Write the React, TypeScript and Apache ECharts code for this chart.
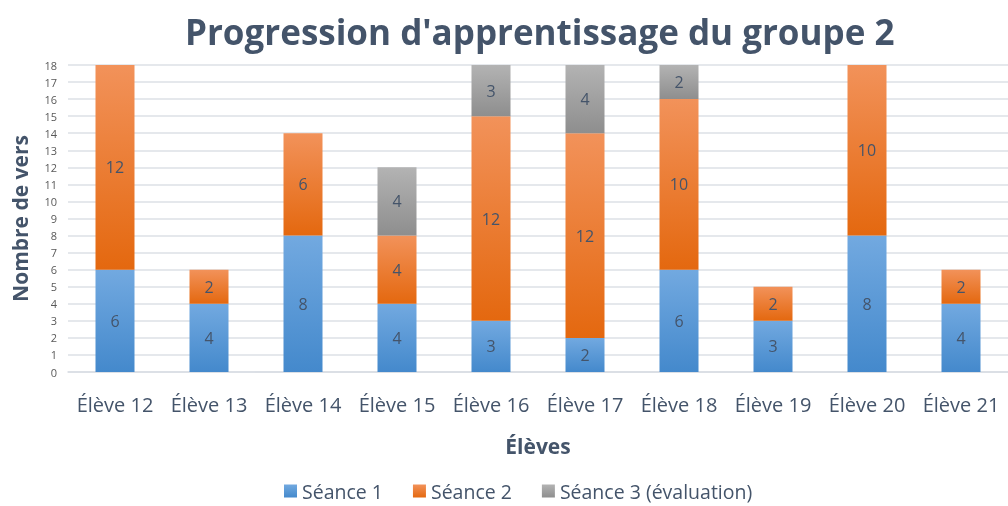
import React, { useEffect, useRef } from "react";
import * as echarts from "echarts";

const categories = ["Élève 12", "Élève 13", "Élève 14", "Élève 15", "Élève 16", "Élève 17", "Élève 18", "Élève 19", "Élève 20", "Élève 21"];
const seance1 = [6, 4, 8, 4, 3, 2, 6, 3, 8, 4];
const seance2 = [12, 2, 6, 4, 12, 12, 10, 2, 10, 2];
const seance3 = [0, 0, 0, 4, 3, 4, 2, 0, 0, 0];
const seriesNames = ["Séance 1", "Séance 2", "Séance 3 (évaluation)"];

const FONT = "'Open Sans', 'Noto Sans', sans-serif";
const TEXT = "#44546a";

function grad(top: string, bottom: string) {
  return new echarts.graphic.LinearGradient(0, 0, 0, 1, [
    { offset: 0, color: top },
    { offset: 1, color: bottom },
  ]);
}

export default function App() {
  const ref = useRef<HTMLDivElement>(null);
  useEffect(() => {
    if (!ref.current) return;
    const chart = echarts.init(ref.current, undefined, { renderer: "svg" });
    const label = {
      show: true,
      position: "inside" as const,
      color: TEXT,
      fontSize: 16,
      fontFamily: FONT,
      formatter: (p: any) => (p.value ? String(p.value) : ""),
    };
    const mk = (name: string, data: number[], top: string, bottom: string) => ({
      name,
      type: "bar" as const,
      stack: "total",
      barWidth: 39,
      data,
      label,
      itemStyle: { color: grad(top, bottom) },
    });
    chart.setOption({
      animation: false,
      title: {
        text: "Progression d'apprentissage du groupe 2",
        left: 180,
        top: 9,
        textStyle: { fontFamily: FONT, fontSize: 35, fontWeight: "bold", color: TEXT },
      },
      legend: {
        bottom: 0,
        left: 279,
        itemWidth: 13,
        itemHeight: 13,
        itemGap: 30,
        icon: "rect",
        textStyle: { fontFamily: FONT, fontSize: 19.5, color: TEXT },
        data: seriesNames,
      },
      grid: { left: 68, right: 0, top: 65, bottom: 134, containLabel: false },
      xAxis: {
        type: "category",
        data: categories,
        name: "Élèves",
        nameLocation: "middle",
        nameGap: 63,
        nameTextStyle: { fontFamily: FONT, fontSize: 21, fontWeight: "bold", color: TEXT },
        axisLine: { show: true, lineStyle: { color: "#d9dde3", width: 1.5 } },
        axisTick: { show: false },
        axisLabel: { fontFamily: FONT, fontSize: 20, color: TEXT, margin: 22, interval: 0 },
      },
      yAxis: {
        type: "value",
        min: 0,
        max: 18,
        interval: 1,
        name: "Nombre de vers",
        nameLocation: "middle",
        nameGap: 38,
        nameTextStyle: { fontFamily: FONT, fontSize: 21, fontWeight: "bold", color: TEXT },
        axisLine: { show: false },
        axisTick: { show: false },
        axisLabel: { fontFamily: FONT, fontSize: 11, color: "#595959", margin: 11 },
        splitLine: { lineStyle: { color: "#dde1e6", width: 1.5 } },
      },
      series: [
        mk(seriesNames[0], seance1, "#72a9e0", "#4489cc"),
        mk(seriesNames[1], seance2, "#f2925a", "#e4680f"),
        mk(seriesNames[2], seance3, "#b3b3b3", "#8e8e8e"),
      ],
    });
    return () => chart.dispose();
  }, []);
  return <div ref={ref} style={{ position: "fixed", left: 0, top: 0, width: 1008, height: 506 }} />;
}
